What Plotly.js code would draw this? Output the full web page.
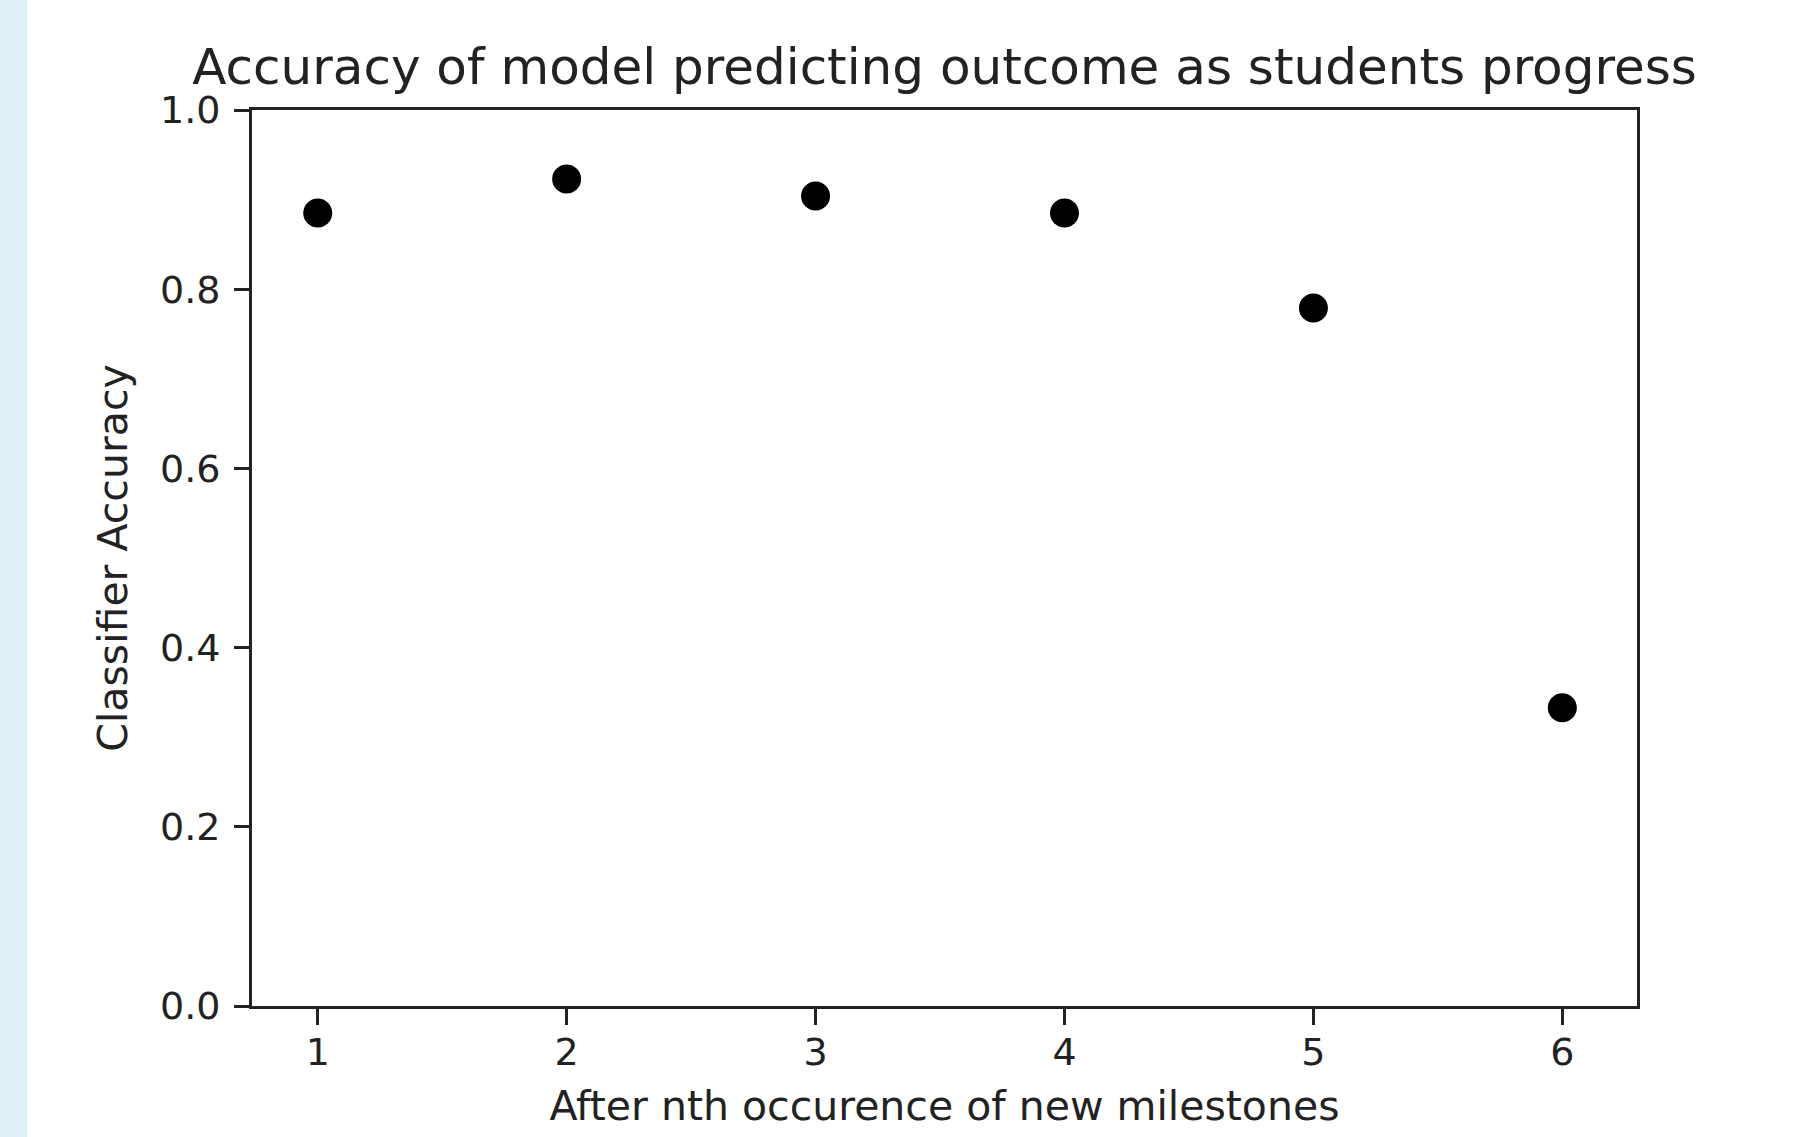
<!DOCTYPE html>
<html>
<head>
<meta charset="utf-8">
<script src="https://cdn.plot.ly/plotly-3.0.1.min.js"></script>
<style>
html,body{margin:0;padding:0;background:#fff;}
#chart{width:1812px;height:1137px;}
</style>
</head>
<body>
<div id="chart"></div>
<script>
const milestones = [1, 2, 3, 4, 5, 6];
const accuracy = [0.885, 0.923, 0.904, 0.885, 0.779, 0.333];
const yTicks = [0, 0.2, 0.4, 0.6, 0.8, 1.0];
const yTickText = ['0.0', '0.2', '0.4', '0.6', '0.8', '1.0'];
const titleText = 'Accuracy of model predicting outcome as students progress';
const xTitle = 'After nth occurence of new milestones';
const yTitle = 'Classifier Accuracy';

const W = 1812, H = 1137;
const L = 252, R = 1637, T = 110, B = 1006;
const pw = R - L, ph = B - T;

const tickFont = {family: 'DejaVu Sans', size: 38, color: '#222'};
const labelFont = {family: 'DejaVu Sans', size: 41, color: '#222'};

const trace = {
  x: milestones,
  y: accuracy,
  type: 'scatter',
  mode: 'markers',
  marker: {color: '#000', size: 29},
  cliponaxis: false,
  hoverinfo: 'x+y'
};

const layout = {
  width: W, height: H,
  margin: {l: L, r: W - R, t: T, b: H - B, pad: 0},
  paper_bgcolor: '#fff',
  plot_bgcolor: '#fff',
  showlegend: false,
  font: tickFont,
  title: {
    text: titleText,
    font: {family: 'DejaVu Sans', size: 50, color: '#222'},
    x: (L + pw / 2) / W, xanchor: 'center',
    y: 1 - 66 / H, yanchor: 'middle'
  },
  xaxis: {
    range: [0.736, 6.30],
    tickmode: 'array',
    tickvals: milestones,
    ticktext: milestones.map(String),
    ticks: 'outside', ticklen: 16, tickwidth: 3, tickcolor: '#222',
    showline: true, linewidth: 3, linecolor: '#222', mirror: true,
    showgrid: false, zeroline: false,
    tickfont: tickFont,
    ticklabelstandoff: -6,
    title: {text: xTitle, font: labelFont, standoff: 19}
  },
  yaxis: {
    range: [0, 1],
    tickmode: 'array',
    tickvals: yTicks,
    ticktext: yTickText,
    ticks: 'outside', ticklen: 15, tickwidth: 3, tickcolor: '#222',
    showline: true, linewidth: 3, linecolor: '#222', mirror: true,
    showgrid: false, zeroline: false,
    tickfont: tickFont,
    ticklabelstandoff: 6,
    title: {text: yTitle, font: labelFont, standoff: 20}
  },
  shapes: [{
    type: 'rect', xref: 'paper', yref: 'paper',
    x0: (0 - L) / pw, x1: (27 - L) / pw,
    y0: -(H - B) / ph, y1: 1 + T / ph,
    fillcolor: '#e0f1f6', line: {width: 0}, layer: 'below'
  }]
};

Plotly.newPlot('chart', [trace], layout, {displayModeBar: false, staticPlot: true});
</script>
</body>
</html>
